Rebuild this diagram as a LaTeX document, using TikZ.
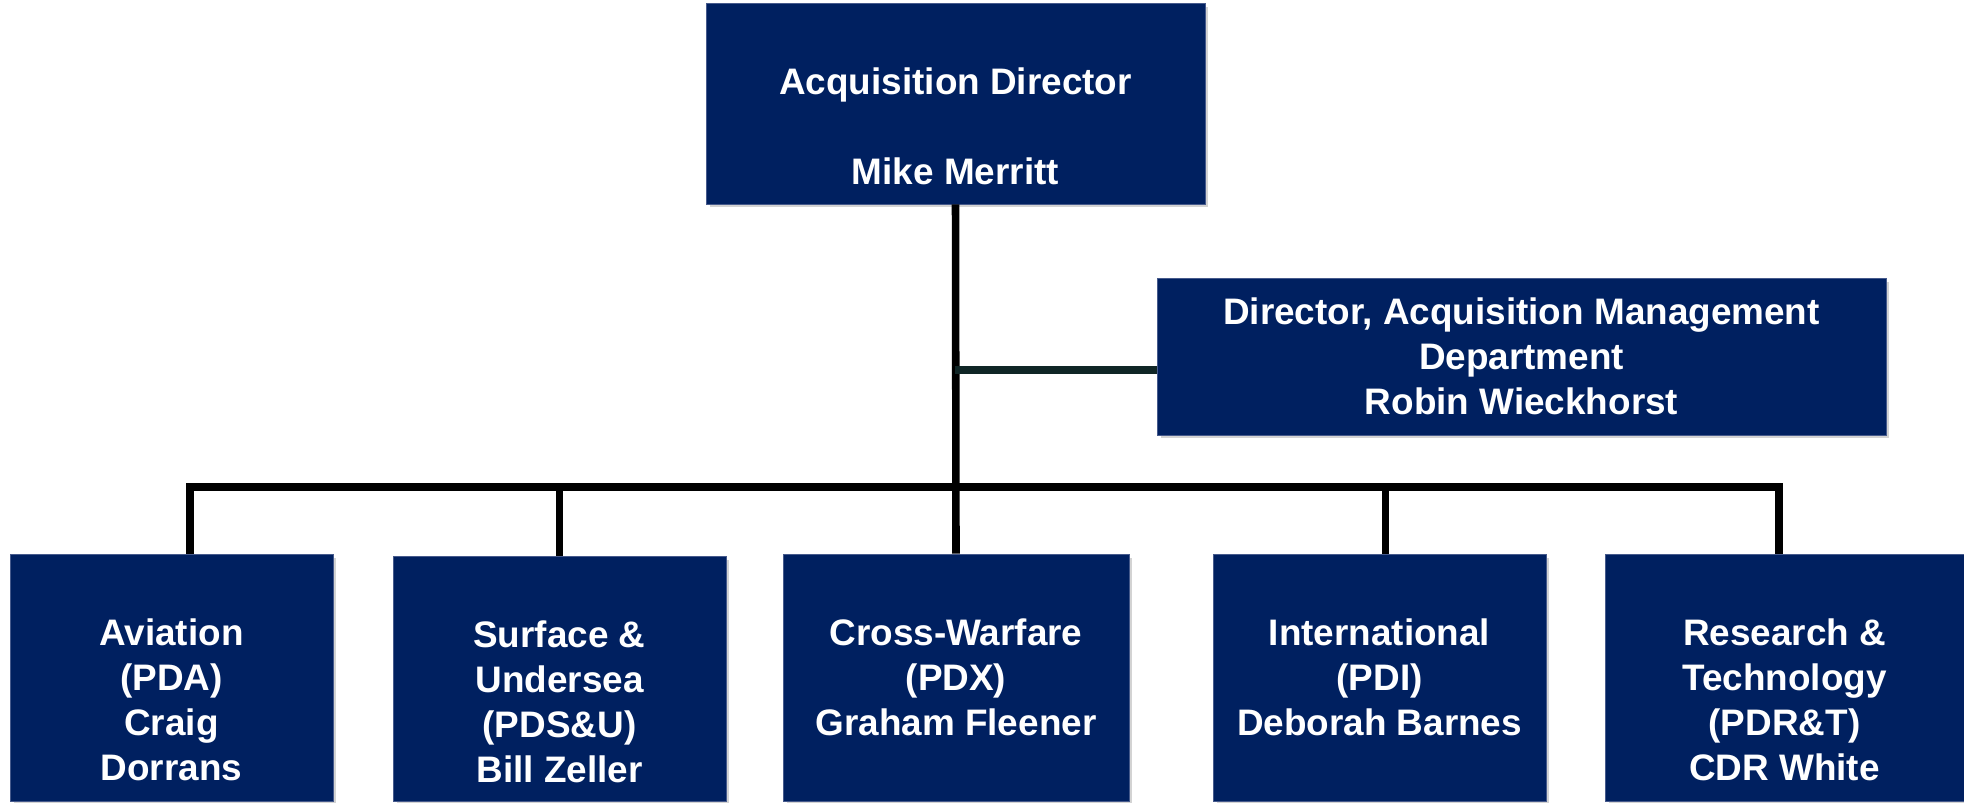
\documentclass[tikz,border=0pt]{standalone}
\usepackage{fontspec}
\setmainfont{Liberation Sans}
\usepackage{tikz}
\usetikzlibrary{positioning}
\usetikzlibrary{shadows}
\definecolor{navyfill}{RGB}{0,32,96}
\definecolor{navyedge}{RGB}{70,90,140}
\definecolor{linkdark}{RGB}{16,38,38}
\tikzset{>=latex}
\tikzset{
  orgbox/.style = {rectangle, fill=navyfill, draw=navyedge, line width=0.5pt, inner sep=0pt,
    drop shadow={shadow xshift=0.07cm, shadow yshift=-0.07cm, opacity=0.35}},
  orgtext/.style = {text=white, align=center, inner sep=0pt, font=\fontsize{21pt}{25.5pt}\selectfont\bfseries},
  link/.style = {-, line width=4.3pt, draw=black},
}

\begin{document}
\begin{tikzpicture}[x=0.02cm, y=-0.02cm]
\useasboundingbox (0,0) rectangle (1964,803);
\node [orgbox, minimum width=9.98cm, minimum height=4.02cm] (Dir) at (955.5,103.5) {};
\node [orgtext, below=1.3cm of Dir.north] (DirT) {Acquisition Director\\[25.5pt]Mike Merritt};
\node [orgbox, orgtext, minimum width=14.58cm, minimum height=3.14cm] (AMD) at (1521.5,356.5) {Director, Acquisition Management\\Department\\Robin Wieckhorst};
\node [orgbox, minimum width=6.46cm, minimum height=4.94cm] (Avia) at (171.5,677.5) {};
\node [orgbox, minimum width=6.66cm, minimum height=4.9cm] (Surf) at (559.5,678.5) {};
\node [orgbox, minimum width=6.92cm, minimum height=4.94cm] (Cross) at (956,677.5) {};
\node [orgbox, minimum width=6.66cm, minimum height=4.94cm] (Intl) at (1379.5,677.5) {};
\node [orgbox, minimum width=7.18cm, minimum height=4.94cm] (Rsch) at (1784.5,677.5) {};
\node [orgtext, below=1.3cm of Avia.north] (AviaT) {Aviation\\(PDA)\\Craig\\Dorrans};
\node [orgtext, below=1.3cm of Surf.north] (SurfT) {Surface \&\\Undersea\\(PDS\&U)\\Bill Zeller};
\node [orgtext, below=1.3cm of Cross.north] (CrossT) {Cross-Warfare\\(PDX)\\Graham Fleener};
\node [orgtext, below=1.3cm of Intl.north] (IntlT) {International\\(PDI)\\Deborah Barnes};
\node [orgtext, below=1.3cm of Rsch.north] (RschT) {Research \&\\Technology\\(PDR\&T)\\CDR White};
\coordinate (BusL) at (190,487);
\coordinate (BusR) at (1779,487);
\coordinate (Hub) at (955,370);
\draw [link] (Dir.south) -- (Cross.north);
\draw [link] (BusL |- Avia.north) -- (BusL) -- (BusR) -- (BusR |- Rsch.north);
\draw [link] (Surf.north) -- (Surf.north |- BusL);
\draw [link] ([xshift=0.12cm]Intl.north) -- ([xshift=0.12cm]Intl.north |- BusL);
\draw [link, draw=linkdark] (Hub) -- (Hub -| AMD.west);
\end{tikzpicture}
\end{document}
